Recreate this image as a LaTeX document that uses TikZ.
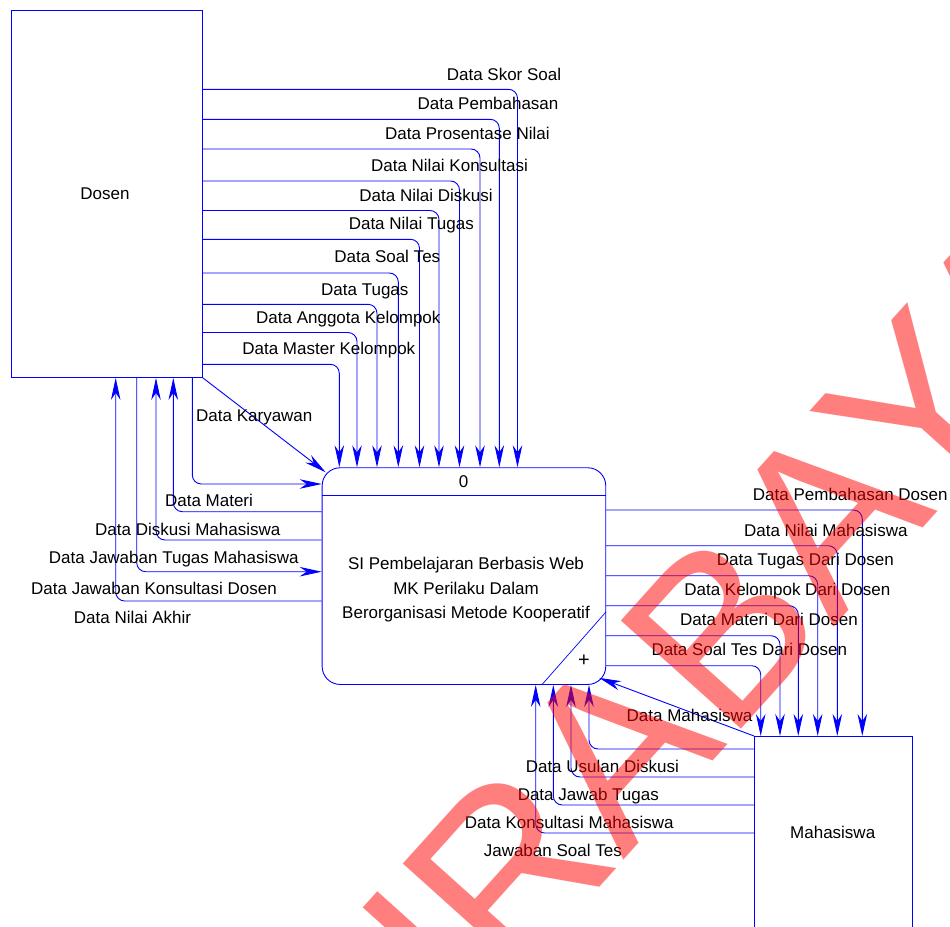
\documentclass[tikz,border=0pt]{standalone}
\usepackage{fontspec}
\setmainfont{Liberation Sans}
\usetikzlibrary{arrows.meta}
\definecolor{flowblue}{RGB}{0,0,255}
\definecolor{stamp}{RGB}{255,0,0}

\begin{document}
\begin{tikzpicture}[x=1pt,y=-1pt,
  every node/.style={font=\fontsize{17}{20}\selectfont, inner sep=0pt},
  entity/.style={draw=flowblue, line width=0.9pt, anchor=north west},
  process/.style={draw=flowblue, line width=0.9pt, rounded corners=18pt, anchor=north west},
  flow/.style={draw=flowblue, line width=0.9pt, rounded corners=9pt,
    -{Stealth[length=22pt,width=9.5pt,inset=7pt]}},
  lbl/.style={anchor=base, text=black},
]
\useasboundingbox (0,0) rectangle (950,926);
\begin{scope}
\clip (0,0) rectangle (950,926);

% external entities and the process
\node[entity, minimum width=191pt, minimum height=367pt] (dosen) at (11,10) {};
\node at (105,193.5) (dosenlbl) {Dosen};
\node[entity, minimum width=158pt, minimum height=230pt] (mhs) at (754,736) {};
\node at (832.7,832.7) (mhslbl) {Mahasiswa};
\node[process, minimum width=283.6pt, minimum height=216.7pt] (proc) at (321.7,467.3) {};
\draw[flowblue, line width=0.9pt] (proc.west |- 0,495) -- (proc.east |- 0,495);
\draw[flowblue, line width=0.7pt] (proc.east |- 0,611.7) -- (proc.south -| 541.7,0);
\node at (463.5,481.5) (procid) {0};
\node[align=center, font=\fontsize{17}{24.5}\selectfont] at (466,590) (proctxt)
  {SI Pembelajaran Berbasis Web\\MK Perilaku Dalam\\Berorganisasi Metode Kooperatif};
\node[font=\fontsize{20}{20}\selectfont] at (584,660.5) (plus) {+};

% Dosen -> process, entering from above
\draw[flow] (dosen.east |- 0,89.3)  -| (proc.north -| 517.5,0);
\draw[flow] (dosen.east |- 0,119.3) -| (proc.north -| 499.3,0);
\draw[flow] (dosen.east |- 0,149)   -| (proc.north -| 480,0);
\draw[flow] (dosen.east |- 0,181)   -| (proc.north -| 459.5,0);
\draw[flow] (dosen.east |- 0,210.5) -| (proc.north -| 439,0);
\draw[flow] (dosen.east |- 0,239.3) -| (proc.north -| 419.5,0);
\draw[flow] (dosen.east |- 0,273)   -| (proc.north -| 398.3,0);
\draw[flow] (dosen.east |- 0,304.3) -| (proc.north -| 377,0);
\draw[flow] (dosen.east |- 0,332.5) -| (proc.north -| 357,0);
\draw[flow] (dosen.east |- 0,364.3) -| (proc.north -| 339.3,0);
\draw[flow] (dosen.south east) -- ([xshift=4pt,yshift=-5pt]proc.north west);

% between Dosen and the left side of the process
\draw[flow] (dosen.south -| 192.3,0) |- (proc.west |- 0,484);
\draw[flow] (proc.west |- 0,511.7) -| (dosen.south -| 173.3,0);
\draw[flow] (proc.west |- 0,540)   -| (dosen.south -| 156,0);
\draw[flow] (dosen.south -| 136.7,0) |- (proc.west |- 0,571.7);
\draw[flow] (proc.west |- 0,601)   -| (dosen.south -| 115.7,0);

% process -> Mahasiswa
\draw[flow] (proc.east |- 0,510)   -| (mhs.north -| 862.3,0);
\draw[flow] (proc.east |- 0,545.7) -| (mhs.north -| 837.3,0);
\draw[flow] (proc.east |- 0,575.7) -| (mhs.north -| 817.7,0);
\draw[flow] (proc.east |- 0,605.7) -| (mhs.north -| 798.3,0);
\draw[flow] (proc.east |- 0,635.7) -| (mhs.north -| 780,0);
\draw[flow] (proc.east |- 0,665.7) -| (mhs.north -| 760.7,0);

% Mahasiswa -> process
\draw[flow] (mhs.north west) -- ([xshift=-7pt,yshift=7pt]proc.south east);
\draw[flow] (mhs.west |- 0,749) -| (proc.south -| 589,0);
\draw[flow] (mhs.west |- 0,777) -| (proc.south -| 571,0);
\draw[flow] (mhs.west |- 0,805) -| (proc.south -| 553.3,0);
\draw[flow] (mhs.west |- 0,833) -| (proc.south -| 535.7,0);

% flow labels
\node[lbl] (l1)  at (504,80)    {Data Skor Soal};
\node[lbl] (l2)  at (488,109)   {Data Pembahasan};
\node[lbl] (l3)  at (467.4,139) {Data Prosentase Nilai};
\node[lbl] (l4)  at (449.5,171.7) {Data Nilai Konsultasi};
\node[lbl] (l5)  at (426,201.7) {Data Nilai Diskusi};
\node[lbl] (l6)  at (411.3,229.3) {Data Nilai Tugas};
\node[lbl] (l7)  at (387.3,262.7) {Data Soal Tes};
\node[lbl] (l8)  at (364.8,295) {Data Tugas};
\node[lbl] (l9)  at (348.3,323) {Data Anggota Kelompok};
\node[lbl] (l10) at (328.8,354.3) {Data Master Kelompok};
\node[lbl] (l11) at (254.3,421) {Data Karyawan};
\node[lbl] (l12) at (209,506)   {Data Materi};
\node[lbl] (l13) at (187.8,535) {Data Diskusi Mahasiswa};
\node[lbl] (l14) at (173.8,563) {Data Jawaban Tugas Mahasiswa};
\node[lbl] (l15) at (154,594)   {Data Jawaban Konsultasi Dosen};
\node[lbl] (l16) at (132.5,623) {Data Nilai Akhir};
\node[lbl] (r1)  at (850.3,500) {Data Pembahasan Dosen};
\node[lbl] (r2)  at (825.8,536.7) {Data Nilai Mahasiswa};
\node[lbl] (r3)  at (805.3,565) {Data Tugas Dari Dosen};
\node[lbl] (r4)  at (787.3,595) {Data Kelompok Dari Dosen};
\node[lbl] (r5)  at (769,625)   {Data Materi Dari Dosen};
\node[lbl] (r6)  at (749.3,655) {Data Soal Tes Dari Dosen};
\node[lbl] (b0)  at (689.5,721) {Data Mahasiswa};
\node[lbl] (b1)  at (602.3,772) {Data Usulan Diskusi};
\node[lbl] (b2)  at (588.3,800) {Data Jawab Tugas};
\node[lbl] (b3)  at (569.3,828) {Data Konsultasi Mahasiswa};
\node[lbl] (b4)  at (552.8,856) {Jawaban Soal Tes};

% translucent stamp across the lower right
\node[text=stamp, text opacity=0.5, rotate=48, font=\fontsize{235}{235}\selectfont]
  (stamp) at (648,712) {SURABAYA};
\end{scope}
\end{tikzpicture}
\end{document}
